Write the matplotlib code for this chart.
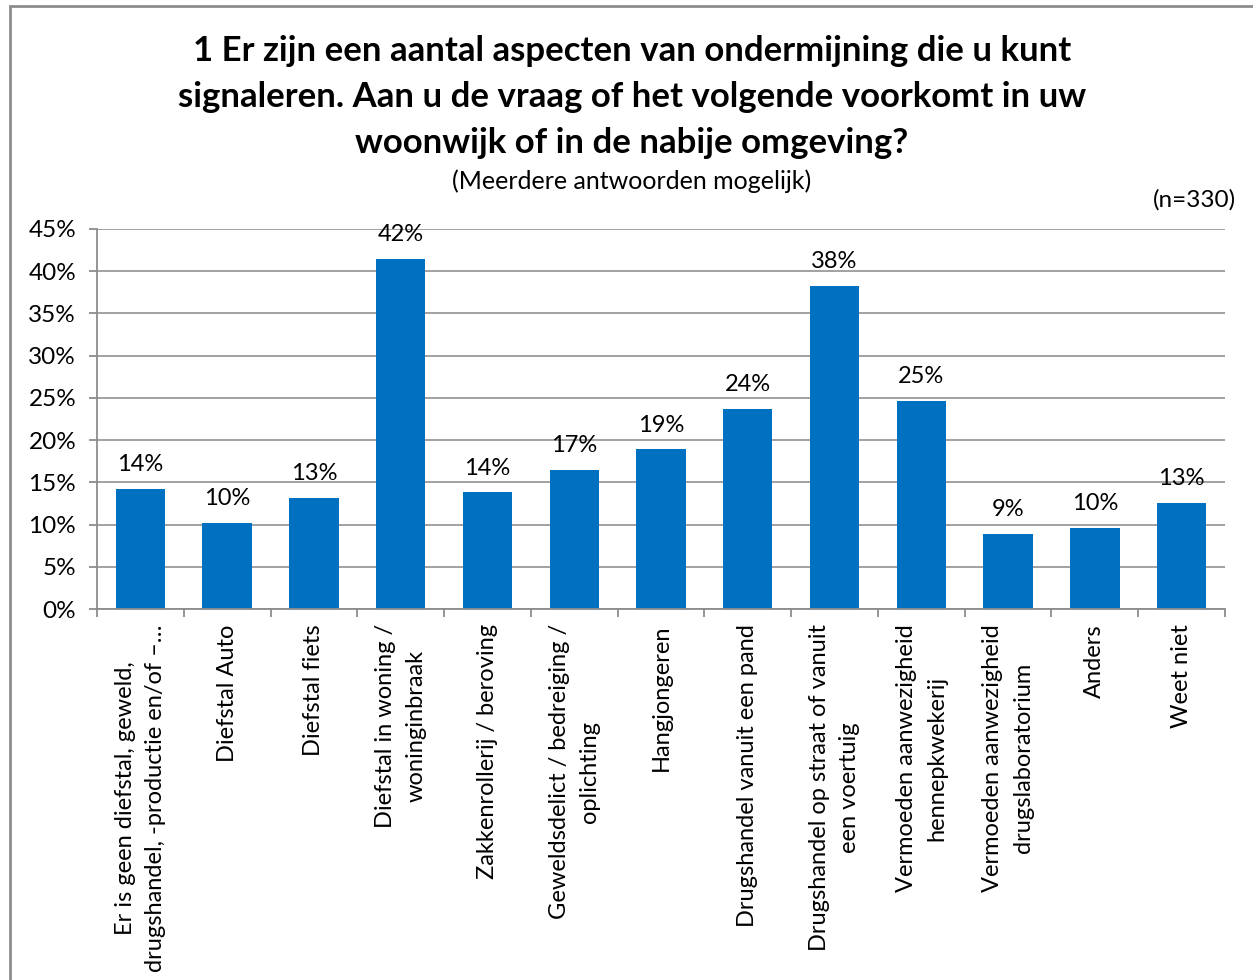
import numpy as np
import matplotlib
matplotlib.use("Agg")
import matplotlib.pyplot as plt
from matplotlib.patches import Rectangle
from matplotlib.ticker import MultipleLocator, FuncFormatter

plt.rcParams['font.family'] = ['Lato', 'DejaVu Sans']

categories = [
    "Er is geen diefstal, geweld,\ndrugshandel, -productie en/of –…",
    "Diefstal Auto",
    "Diefstal fiets",
    "Diefstal in woning /\nwoninginbraak",
    "Zakkenrollerij / beroving",
    "Geweldsdelict / bedreiging /\noplichting",
    "Hangjongeren",
    "Drugshandel vanuit een pand",
    "Drugshandel op straat of vanuit\neen voertuig",
    "Vermoeden aanwezigheid\nhennepkwekerij",
    "Vermoeden aanwezigheid\ndrugslaboratorium",
    "Anders",
    "Weet niet",
]
values = [14.2, 10.2, 13.2, 41.5, 13.8, 16.5, 18.9, 23.7, 38.3, 24.6, 8.9, 9.6, 12.6]
labels = ["14%", "10%", "13%", "42%", "14%", "17%", "19%", "24%", "38%", "25%", "9%", "10%", "13%"]

title = ("1 Er zijn een aantal aspecten van ondermijning die u kunt\n"
         "signaleren. Aan u de vraag of het volgende voorkomt in uw\n"
         "woonwijk of in de nabije omgeving?")
subtitle = "(Meerdere antwoorden mogelijk)"
n_text = "(n=330)"

W, H = 1253, 980
fig = plt.figure(figsize=(W / 100, H / 100), dpi=100)
ax = fig.add_axes([97 / W, 1 - 609 / H, (1225 - 97) / W, (609 - 229) / H])

x = np.arange(len(values))
ax.bar(x, values, width=0.57, color='#0070C0', zorder=2)
for xi, v, lab in zip(x, values, labels):
    ax.annotate(lab, (xi, v), xytext=(0, 10), textcoords='offset points',
                ha='center', va='bottom', fontsize=17)

ax.set_xlim(-0.5, len(values) - 0.5)
ax.set_ylim(0, 45)
ax.yaxis.set_major_locator(MultipleLocator(5))
ax.yaxis.set_major_formatter(FuncFormatter(lambda v, p: f"{v:.0f}%"))
ax.grid(axis='y', color='#9a9a9a', linewidth=1.3, zorder=0)
ax.set_axisbelow(True)

ax.set_xticks(np.arange(len(values) + 1) - 0.5, minor=False)
ax.set_xticklabels([])
ax.set_xticks(x, minor=True)
ax.set_xticklabels(categories, minor=True, rotation=90, fontsize=17,
                   ha='center', va='top', multialignment='center', linespacing=1.55)
ax.tick_params(axis='x', which='major', length=6, color='#8c8c8c', width=1.3)
ax.tick_params(axis='x', which='minor', length=0, pad=11)
ax.tick_params(axis='y', length=6, color='#8c8c8c', width=1.3, labelsize=17.5, pad=9)

for s in ['top', 'right']:
    ax.spines[s].set_visible(False)
for s in ['left', 'bottom']:
    ax.spines[s].set_color('#8c8c8c')
    ax.spines[s].set_linewidth(1.3)

fig.text(632 / W, 1 - 35 / H, title, ha='center', va='top', fontsize=25,
         fontweight='bold', linespacing=1.54)
fig.text(632 / W, 1 - 181 / H, subtitle, ha='center', va='center', fontsize=18)
fig.text(1236 / W, 1 - 200 / H, n_text, ha='right', va='center', fontsize=17.5)

fig.patches.append(Rectangle((10 / W, -0.05), 1.1, 1.05 - 6 / H, transform=fig.transFigure,
                             fill=False, edgecolor='#8c8c8c', linewidth=2))

fig.savefig("out.png", dpi=100)
